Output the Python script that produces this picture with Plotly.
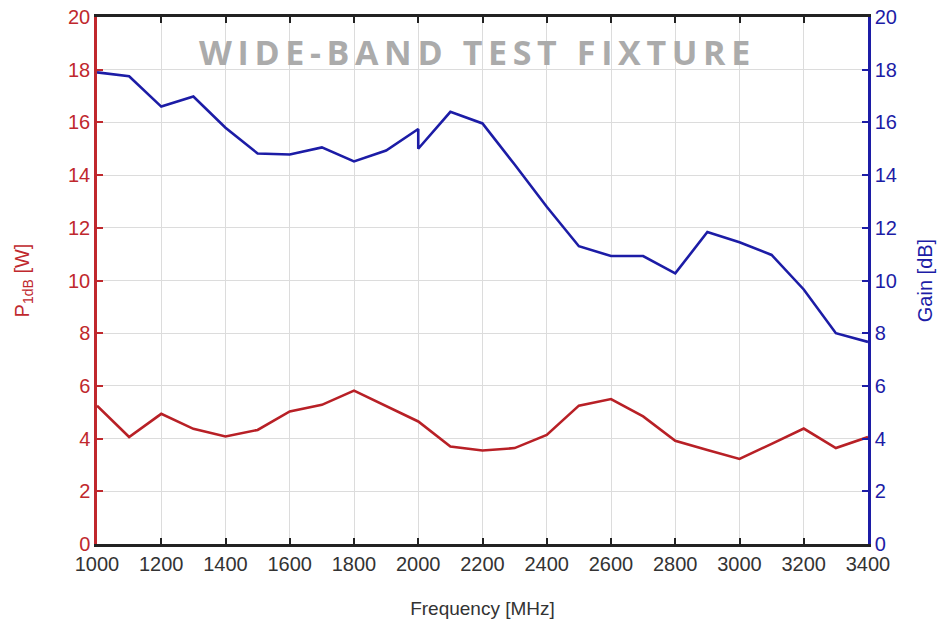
import plotly.graph_objects as go

freq_gain = [1000, 1100, 1200, 1300, 1400, 1500, 1600, 1700, 1800, 1900, 2000, 2000,
             2100, 2200, 2300, 2400, 2500, 2600, 2700, 2800, 2900, 3000, 3100, 3200, 3300, 3400]
gain_db = [17.9, 17.75, 16.6, 16.98, 15.8, 14.82, 14.78, 15.05, 14.52, 14.93, 15.75, 15.0,
           16.4, 15.96, 14.4, 12.8, 11.3, 10.93, 10.93, 10.27, 11.84, 11.45, 10.97, 9.66, 8.0, 7.67]

freq_p1db = [1000, 1100, 1200, 1300, 1400, 1500, 1600, 1700, 1800, 1900, 2000, 2100, 2200,
             2300, 2400, 2500, 2600, 2700, 2800, 2900, 3000, 3100, 3200, 3300, 3400]
p1db_w = [5.25, 4.06, 4.94, 4.37, 4.08, 4.33, 5.03, 5.28, 5.82, 5.22, 4.65, 3.7, 3.55,
          3.64, 4.14, 5.25, 5.5, 4.84, 3.92, 3.57, 3.23, 3.8, 4.38, 3.64, 4.06]

title_text = "WIDE-BAND TEST FIXTURE"

RED = "#c0282d"
BLUE = "#1c1ca6"
FONT = "Liberation Sans, Arial, sans-serif"

spaced_title = "\u2009".join(title_text)

fig = go.Figure()
fig.add_trace(go.Scatter(x=freq_p1db, y=p1db_w, mode="lines",
                         line=dict(color="#b82026", width=2.6), yaxis="y", showlegend=False))
fig.add_trace(go.Scatter(x=freq_gain, y=gain_db, mode="lines",
                         line=dict(color=BLUE, width=2.6), yaxis="y2", showlegend=False))

fig.update_layout(
    width=943, height=619,
    margin=dict(l=97, r=75, t=17, b=75),
    paper_bgcolor="white", plot_bgcolor="white",
    font=dict(family=FONT, size=20, color="#333333"),
    xaxis=dict(range=[1000, 3400], dtick=200, tick0=1000, ticks="inside", ticklen=6,
               tickwidth=2, tickcolor="#222222", showline=True, linecolor="#222222",
               linewidth=2.5, mirror="ticks", showgrid=True, gridcolor="#dcdcdc",
               gridwidth=1, zeroline=False, automargin=False,
               tickfont=dict(size=20, color="#333333", family=FONT),
               title=dict(text="Frequency [MHz]", font=dict(size=19, color="#333333"),
                          standoff=32)),
    yaxis=dict(range=[0, 20], dtick=2, ticks="inside", ticklen=6, tickwidth=1.5,
               tickcolor=RED, showline=True, linecolor=RED, linewidth=2.5,
               showgrid=True, gridcolor="#dcdcdc", gridwidth=1, zeroline=False,
               automargin=False,
               tickfont=dict(size=20, color=RED, family=FONT),
               title=dict(text="P<sub>1dB</sub> [W]", font=dict(size=20, color=RED),
                          standoff=34)),
    yaxis2=dict(range=[0, 20], dtick=2, ticks="inside", ticklen=6, tickwidth=1.5,
                tickcolor=BLUE, showline=True, linecolor=BLUE, linewidth=2.5,
                overlaying="y", side="right", showgrid=False, zeroline=False,
                automargin=False,
                tickfont=dict(size=20, color=BLUE, family=FONT),
                title=dict(text="Gain [dB]", font=dict(size=20, color=BLUE), standoff=22)),
    annotations=[dict(text="<b>" + spaced_title + "</b>", xref="paper", yref="paper",
                      x=0.49, y=0.934, xanchor="center", yanchor="middle", showarrow=False,
                      font=dict(family="Open Sans, sans-serif", size=34, color="#ababab"))],
)

fig.write_html("out.html")
